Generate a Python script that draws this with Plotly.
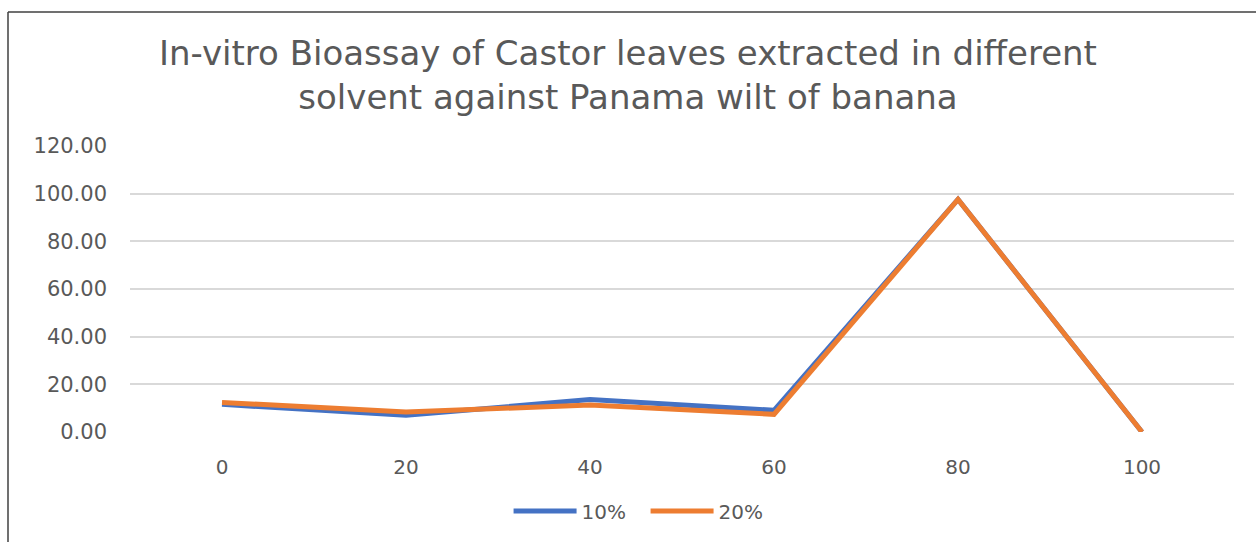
import plotly.graph_objects as go

categories = ["0", "20", "40", "60", "80", "100"]
series_10 = [11.6, 7.0, 13.6, 9.1, 97.6, 0.0]
series_20 = [12.4, 8.4, 11.3, 7.4, 97.6, 0.0]
y_ticks = [0, 20, 40, 60, 80, 100, 120]

W, H = 1256, 542
ml, mr, mt, mb = 130, 22, 146, 106
pw = W - ml - mr
ph = H - mt - mb
FONT = "DejaVu Sans"

fig = go.Figure()
fig.add_trace(go.Scatter(x=categories, y=series_10, mode="lines", name="10%",
                         line=dict(color="#4472C4", width=5)))
fig.add_trace(go.Scatter(x=categories, y=series_20, mode="lines", name="20%",
                         line=dict(color="#ED7D31", width=5)))

fig.update_layout(
    width=W, height=H,
    margin=dict(l=ml, r=mr, t=mt, b=mb),
    paper_bgcolor="white", plot_bgcolor="white",
    font=dict(family=FONT, color="#595959"),
    title=dict(text="In-vitro Bioassay of Castor leaves extracted in different<br>solvent against Panama wilt of banana",
               x=0.5, xanchor="center", y=1 - 65 / H, yanchor="middle",
               font=dict(family=FONT, size=34, color="#595959")),
    xaxis=dict(type="category", range=[-0.5, 5.5], showgrid=False, zeroline=False,
               showline=False, ticks="", tickfont=dict(size=20, color="#595959"),
               ticklabelstandoff=21),
    yaxis=dict(range=[0, 120], tickvals=y_ticks, tickformat=".2f",
               showgrid=True, gridcolor="#D9D9D9", gridwidth=1.5, zeroline=False,
               showline=False, ticks="", tickfont=dict(size=21, color="#595959"),
               ticklabelstandoff=22),
    legend=dict(orientation="h", x=0.467, xanchor="center", y=-(516 - 436) / ph, yanchor="middle",
                font=dict(size=20, color="#595959"), itemwidth=63, entrywidth=59),
    showlegend=True,
)

# outer chart border (left and top edges)
fig.add_shape(type="line", xref="paper", yref="paper",
              x0=(8 - ml) / pw, x1=(W - ml) / pw + 0.01, y0=(H - mb - 10) / ph, y1=(H - mb - 10) / ph,
              line=dict(color="#404040", width=1.5))
fig.add_shape(type="line", xref="paper", yref="paper",
              x0=(8 - ml) / pw, x1=(8 - ml) / pw, y0=(H - mb - 10) / ph, y1=-(H - ph - mt + 10) / ph - 0.5,
              line=dict(color="#404040", width=1.5))

fig.write_html("out.html")
